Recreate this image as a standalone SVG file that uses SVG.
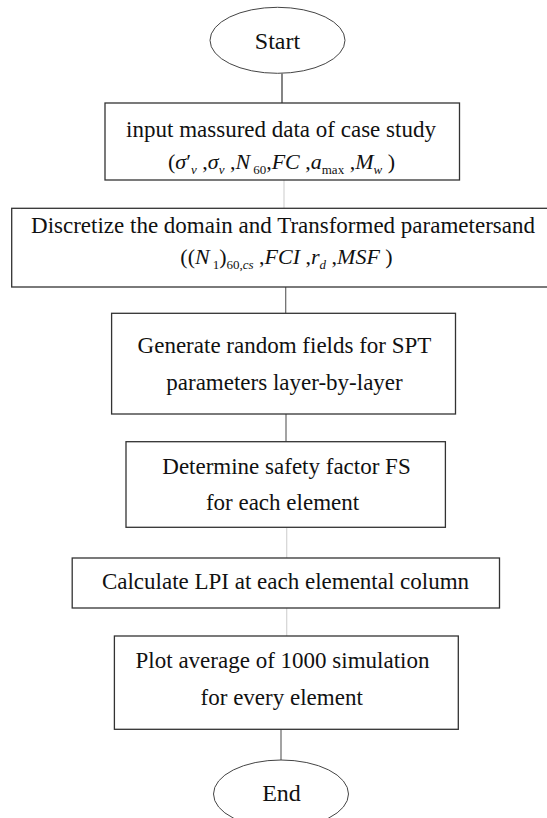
<svg xmlns="http://www.w3.org/2000/svg" width="547" height="818" viewBox="0 0 547 818">
<style>
.bg{fill:#fff}
.box{fill:#fff;stroke:#333;stroke-width:1.3}
.term{fill:#fff;stroke:#444;stroke-width:1}
.t{font-family:"Liberation Serif","Times New Roman",serif;font-size:23px;fill:#111;text-anchor:middle}
.tt{font-family:"Liberation Serif","Times New Roman",serif;font-size:24px;fill:#111;text-anchor:middle}
.f{font-family:"Liberation Serif","Times New Roman",serif;font-size:22px;fill:#111;text-anchor:middle}
.i{font-style:italic}
.s{font-size:13px}
.c1{stroke:#333;stroke-width:1.2;fill:none}
.c2{stroke:#666;stroke-width:1.2;fill:none}
.c3{stroke:#d4d4d4;stroke-width:1.2;fill:none}
</style>
<rect class="bg" x="0" y="0" width="547" height="818"/>
<g id="connectors">
<line class="c1" x1="282" y1="73.5" x2="282" y2="103"/>
<line class="c3" x1="284" y1="180" x2="284" y2="208.3"/>
<line class="c2" x1="285.7" y1="287" x2="285.7" y2="313.3"/>
<line class="c2" x1="286" y1="414" x2="286" y2="441.7"/>
<line class="c3" x1="286.7" y1="527.3" x2="286.7" y2="558"/>
<line class="c3" x1="286.7" y1="608" x2="286.7" y2="636"/>
<line class="c2" x1="281" y1="729.3" x2="281" y2="760"/>
</g>
<g id="start">
<ellipse class="term" cx="277.5" cy="40.3" rx="67.5" ry="33"/>
<text class="tt" x="277.5" y="49">Start</text>
</g>
<g id="input">
<rect class="box" x="105" y="103" width="354.5" height="77"/>
<text class="t" x="281" y="136.5">input massured data of case study</text>
<text class="f" x="281.5" y="169">(<tspan class="i">σ</tspan>′<tspan class="s i" dy="5">v</tspan><tspan dy="-5"> ,</tspan><tspan class="i">σ</tspan><tspan class="s i" dy="5">v</tspan><tspan dy="-5"> ,</tspan><tspan class="i">N</tspan><tspan class="s" dx="3" dy="5">60</tspan><tspan dy="-5">,</tspan><tspan class="i">FC</tspan> ,<tspan class="i">a</tspan><tspan class="s" dy="5">max</tspan><tspan dy="-5"> ,</tspan><tspan class="i">M</tspan><tspan class="s i" dy="5">w</tspan><tspan dy="-5"> )</tspan></text>
</g>
<g id="discretize">
<rect class="box" x="11.7" y="208.3" width="545" height="78.7"/>
<text class="t" x="283" y="232.5">Discretize the domain and Transformed parametersand</text>
<text class="f" x="286.5" y="264">((<tspan class="i">N</tspan><tspan class="s" dx="3" dy="5">1</tspan><tspan dy="-5">)</tspan><tspan class="s" dy="5">60,</tspan><tspan class="s i">cs</tspan><tspan dy="-5"> ,</tspan><tspan class="i">FCI</tspan> ,<tspan class="i">r</tspan><tspan class="s i" dy="5">d</tspan><tspan dy="-5"> ,</tspan><tspan class="i">MSF</tspan> )</text>
</g>
<g id="generate">
<rect class="box" x="111.6" y="313.3" width="343.9" height="100.7"/>
<text class="t" x="284.5" y="353">Generate random fields for SPT</text>
<text class="t" x="284.5" y="389.5">parameters layer-by-layer</text>
</g>
<g id="safety">
<rect class="box" x="126" y="441.7" width="319.4" height="85.6"/>
<text class="t" x="286.5" y="474">Determine safety factor FS</text>
<text class="t" x="282.5" y="510">for each element</text>
</g>
<g id="lpi">
<rect class="box" x="72.2" y="558" width="427.3" height="50"/>
<text class="t" x="285.5" y="589">Calculate LPI at each elemental column</text>
</g>
<g id="plot">
<rect class="box" x="114.4" y="636" width="343.9" height="93.3"/>
<text class="t" x="282.5" y="668">Plot average of 1000 simulation</text>
<text class="t" x="281.7" y="705">for every element</text>
</g>
<g id="end">
<ellipse class="term" cx="281" cy="794" rx="67.5" ry="34"/>
<text class="tt" x="281.5" y="800.7">End</text>
</g>
</svg>
